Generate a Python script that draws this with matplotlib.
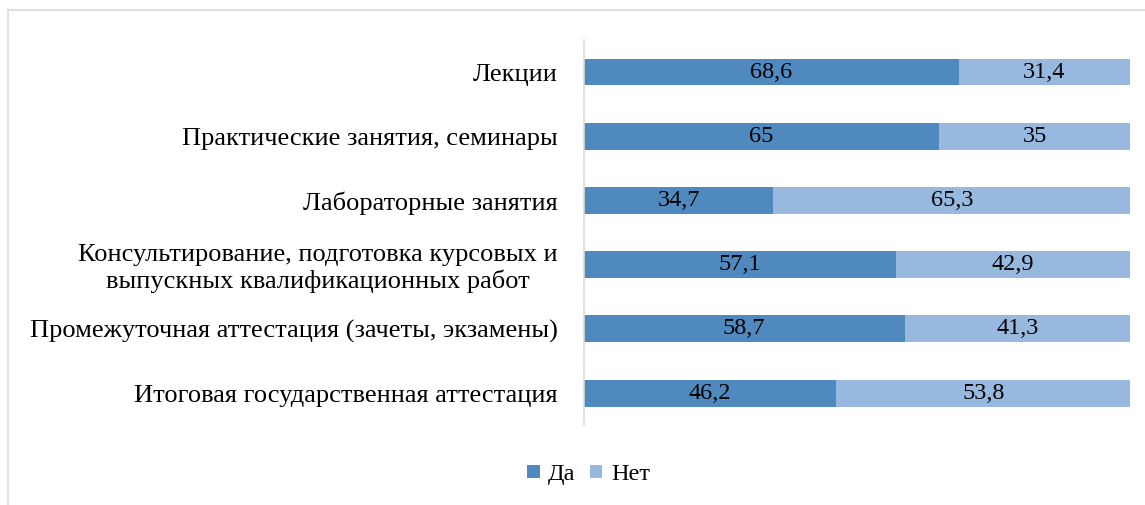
import matplotlib.pyplot as plt
from matplotlib.lines import Line2D

categories = [
    "Лекции",
    "Практические занятия, семинары",
    "Лабораторные занятия",
    "Консультирование, подготовка курсовых и\nвыпускных квалификационных работ",
    "Промежуточная аттестация (зачеты, экзамены)",
    "Итоговая государственная аттестация",
]
yes_values = [68.6, 65, 34.7, 57.1, 58.7, 46.2]
no_values = [31.4, 35, 65.3, 42.9, 41.3, 53.8]
yes_labels = ["68,6", "65", "34,7", "57,1", "58,7", "46,2"]
no_labels = ["31,4", "35", "65,3", "42,9", "41,3", "53,8"]

plt.rcParams['font.family'] = ['Liberation Serif', 'DejaVu Serif']

fig = plt.figure(figsize=(11.45, 5.05), dpi=100)
ax = fig.add_axes([0.510, 0.158, 0.477, 0.763])

pos = list(range(len(categories)))
dark = '#4F89BD'
light = '#97B9E0'
b1 = ax.barh(pos, yes_values, height=0.42, color=dark, label='Да')
b2 = ax.barh(pos, no_values, left=yes_values, height=0.42, color=light, label='Нет')

for rect, txt in zip(b1, yes_labels):
    ax.text(rect.get_x() + rect.get_width() / 2, rect.get_y() + rect.get_height() / 2,
            txt, ha='center', va='center', fontsize=17.5)
for rect, txt in zip(b2, no_labels):
    ax.text(rect.get_x() + rect.get_width() / 2, rect.get_y() + rect.get_height() / 2,
            txt, ha='center', va='center', fontsize=17.5)

ax.set_xlim(0, 100)
ax.set_ylim(len(categories) - 0.5, -0.5)
ax.set_yticks(pos)
ax.set_yticklabels(categories, fontsize=19, multialignment='center', linespacing=1.15)
ax.tick_params(axis='y', length=0, pad=19)
ax.set_xticks([])
for s in ['top', 'right', 'bottom']:
    ax.spines[s].set_visible(False)
ax.spines['left'].set_color('#D9D9D9')
ax.spines['left'].set_linewidth(1.2)

fig.legend(handles=[b1, b2], loc='center', bbox_to_anchor=(0.514, 0.06), ncol=2,
           frameon=False, fontsize=17.5, handlelength=0.5, handleheight=0.5,
           handletextpad=0.35, columnspacing=0.6)

# chart border (top and left edges visible)
fig.add_artist(Line2D([0.007, 1.0], [0.980, 0.980], color='#D9D9D9', lw=1.2))
fig.add_artist(Line2D([0.007, 0.007], [0.0, 0.980], color='#D9D9D9', lw=1.2))

fig.savefig('out.png', dpi=100)
